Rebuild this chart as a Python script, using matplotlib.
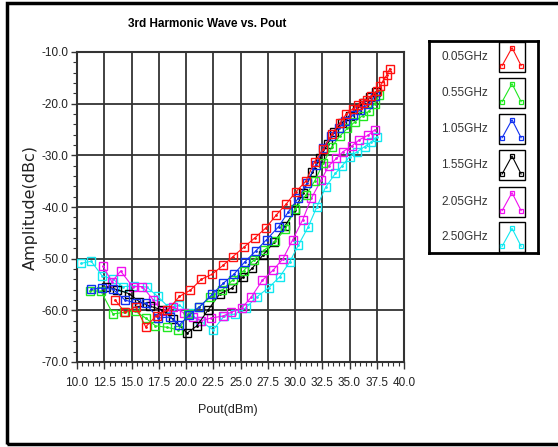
import matplotlib
matplotlib.use("Agg")
import matplotlib.pyplot as plt
from matplotlib.patches import Rectangle
from matplotlib.ticker import MultipleLocator, FormatStrFormatter

plt.rcParams['font.family'] = ['Liberation Sans', 'DejaVu Sans']

# Pout (dBm) and 3rd harmonic level (dBc)
x_005 = [13.5, 14.4, 15.4, 16.3, 17.3, 18.3, 19.4, 20.4, 21.4, 22.4, 23.4, 24.3, 25.3, 26.3,
         27.3, 28.3, 29.2, 30.1, 31.0, 31.8, 32.6, 33.4, 34.1, 34.7, 35.3, 35.8, 36.2, 36.6,
         37.0, 37.5, 37.8, 38.1, 38.4, 38.7]
y_005 = [-58.0, -60.4, -59.3, -63.2, -61.0, -60.0, -57.3, -56.1, -54.0, -53.0, -51.3, -49.6, -47.8, -46.0,
         -44.1, -41.5, -39.4, -37.0, -35.0, -31.2, -28.8, -25.8, -23.8, -22.0, -21.0, -20.3, -19.8, -19.2,
         -18.6, -17.6, -16.6, -15.6, -14.5, -13.2]

x_055 = [11.2, 12.2, 13.3, 14.3, 15.3, 16.3, 17.2, 18.3, 19.3, 20.2, 21.2, 22.2, 23.3, 24.3, 25.3,
         26.2, 27.2, 28.2, 29.1, 30.0, 31.0, 31.8, 32.6, 33.4, 34.1, 34.8, 35.5, 36.2, 36.8, 37.3, 37.7]
y_055 = [-56.2, -56.3, -60.7, -60.4, -60.1, -61.5, -63.0, -63.3, -63.8, -60.7, -59.4, -57.5, -56.1, -54.1, -52.3,
         -50.3, -48.3, -46.6, -44.3, -40.4, -37.7, -35.0, -31.5, -28.3, -26.3, -24.8, -23.5, -22.3, -21.4, -20.0, -18.4]

x_105 = [11.3, 12.3, 13.3, 14.4, 15.4, 16.3, 17.4, 18.5, 19.4, 20.3, 21.2, 22.4, 23.4, 24.4, 25.4,
         26.4, 27.4, 28.5, 29.4, 30.3, 31.1, 31.9, 32.6, 33.3, 34.0, 34.6, 35.3, 36.0, 36.7, 37.3]
y_105 = [-55.9, -55.7, -55.9, -58.0, -58.6, -58.6, -61.5, -61.3, -62.8, -60.9, -59.4, -56.9, -54.8, -53.0, -50.6,
         -48.5, -46.3, -43.8, -40.9, -38.3, -35.3, -31.8, -28.5, -26.3, -24.8, -23.4, -22.2, -21.2, -20.1, -18.6]

x_155 = [12.7, 13.7, 14.8, 15.7, 16.7, 17.8, 18.8, 20.1, 21.0, 22.0, 23.1, 24.2, 25.2, 26.1, 27.1,
         28.1, 29.1, 30.0, 30.7, 31.6, 32.3, 33.0, 33.6, 34.3, 35.0, 35.7, 36.3, 36.9, 37.4]
y_155 = [-55.4, -56.0, -56.8, -58.3, -59.2, -59.9, -61.7, -64.4, -63.0, -60.0, -56.8, -55.7, -53.6, -51.8, -49.2,
         -46.8, -43.6, -40.6, -37.3, -33.3, -30.5, -27.8, -25.5, -23.7, -22.3, -21.0, -19.8, -18.7, -17.8]

x_205 = [12.4, 13.2, 14.0, 15.1, 16.0, 17.0, 17.8, 18.8, 19.8, 20.6, 21.4, 22.3, 23.4, 24.1, 25.1,
         26.0, 27.0, 28.0, 28.9, 29.8, 30.7, 31.5, 32.4, 33.1, 33.8, 34.4, 35.2, 35.9, 36.7, 37.3]
y_205 = [-51.5, -54.5, -52.4, -55.4, -55.4, -58.0, -60.2, -59.3, -60.5, -61.3, -62.0, -61.5, -61.1, -60.4, -59.6,
         -57.4, -54.2, -52.2, -50.0, -46.3, -42.5, -38.3, -34.8, -32.0, -30.6, -29.3, -28.2, -27.0, -26.1, -25.1]

x_250 = [10.4, 11.3, 12.3, 13.3, 14.2, 15.2, 16.4, 17.4, 18.5, 19.4, 20.3, 21.3, 22.5, 23.5, 24.5,
         25.5, 26.5, 27.6, 28.6, 29.5, 30.3, 31.2, 32.0, 32.8, 33.7, 34.3, 35.0, 35.7, 36.4, 37.0, 37.5]
y_250 = [-50.9, -50.5, -53.3, -54.0, -55.4, -55.3, -55.5, -57.3, -59.6, -59.0, -60.6, -62.0, -63.8, -61.1, -60.7,
         -59.5, -57.4, -55.6, -53.5, -50.7, -47.4, -43.9, -40.0, -36.2, -33.5, -32.1, -30.3, -29.3, -28.3, -27.4, -26.4]

labels = ['0.05GHz', '0.55GHz', '1.05GHz', '1.55GHz', '2.05GHz', '2.50GHz']
colors = ['#ff1010', '#20e820', '#1030f0', '#000000', '#f010f0', '#10e8f0']
xs = [x_005, x_055, x_105, x_155, x_205, x_250]
ys = [y_005, y_055, y_105, y_155, y_205, y_250]

fig = plt.figure(figsize=(5.58, 4.47), dpi=100)
ax = fig.add_axes([77 / 558, 1 - 362 / 447, 327 / 558, 310 / 447])

zs = [10, 8, 9, 7, 6, 5]
for x, y, c, z in zip(xs, ys, colors, zs):
    ax.plot(x, y, color=c, lw=0.8, marker='s', ms=5.5, mfc='none', mec=c, mew=1.0, zorder=z)
    ax.plot(x, y, ls='none', marker='.', ms=2, color=c, zorder=z)

ax.set_xlim(10, 40)
ax.set_ylim(-70, -10)
ax.xaxis.set_major_locator(MultipleLocator(2.5))
ax.xaxis.set_minor_locator(MultipleLocator(0.5))
ax.yaxis.set_major_locator(MultipleLocator(10))
ax.yaxis.set_minor_locator(MultipleLocator(2))
ax.xaxis.set_major_formatter(FormatStrFormatter('%.1f'))
ax.yaxis.set_major_formatter(FormatStrFormatter('%.1f'))
ax.tick_params(which='major', length=5, width=1, labelsize=8.5, color='#333333', labelcolor='#222222')
ax.tick_params(which='minor', length=3, width=0.8, color='#333333')
ax.tick_params(axis='x', which='major', pad=6)
ax.tick_params(axis='y', which='major', pad=2, length=4)
ax.grid(True, which='major', color='#333333', lw=1.3)
ax.set_axisbelow(True)
for s in ax.spines.values():
    s.set_color('#333333')
    s.set_linewidth(1.5)

fig.text(207 / 558, 1 - 24 / 447, '3rd Harmonic Wave vs. Pout', ha='center', va='center',
         fontsize=8.5, fontweight='bold')
fig.text(228 / 558, 1 - 410 / 447, 'Pout(dBm)', ha='center', va='center', fontsize=9,
         color='#222222')
fig.text(30 / 558, 1 - 207 / 447, 'Amplitude(dBc)', ha='center', va='center', rotation=90,
         fontsize=11.5, family='DejaVu Sans', color='#222222')

# legend panel
lax = fig.add_axes([429 / 558, 1 - 253 / 447, 109 / 558, 212 / 447])
lax.set_xlim(0, 1)
lax.set_ylim(0, 1)
lax.set_xticks([])
lax.set_yticks([])
for s in lax.spines.values():
    s.set_linewidth(2)
    s.set_color('black')
centers = [0.926, 0.756, 0.586, 0.415, 0.242, 0.074]
bw, bh = 0.239, 0.1415
for lab, c, yc in zip(labels, colors, centers):
    lax.text(0.54, yc, lab, ha='right', va='center', fontsize=8.5, color='#333333')
    lax.add_patch(Rectangle((0.642, yc - bh / 2), bw, bh, fill=False, ec='black', lw=1))
    ix = [0.642 + bw * f for f in (0.12, 0.5, 0.85)]
    iy = [yc - bh * 0.3, yc + bh * 0.3, yc - bh * 0.3]
    lax.plot(ix, iy, color=c, lw=0.8, marker='s', ms=3.5, mfc='none', mec=c, mew=0.9)

# outer frame
fig.patches.append(Rectangle((7 / 558, 3 / 447), 1.2, 1 - 6 / 447, transform=fig.transFigure,
                             fill=False, ec='black', lw=2.5))

fig.savefig('out.png', dpi=100)
